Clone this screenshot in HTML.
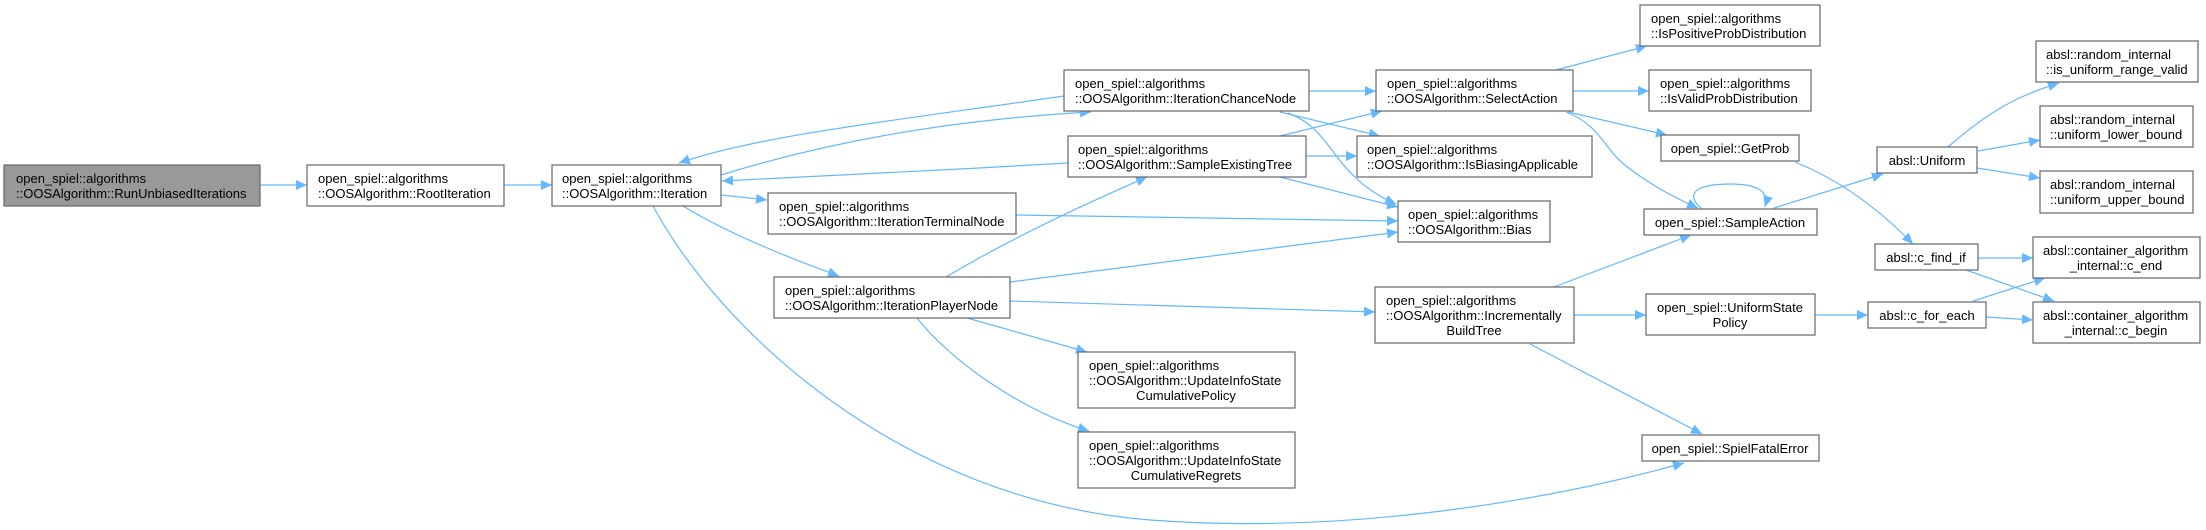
<!DOCTYPE html>
<html><head><meta charset="utf-8"><style>
html,body{margin:0;padding:0;background:#fff;}
svg{display:block;}
text{font-family:"Liberation Sans",Arial,sans-serif;font-size:13px;fill:#000;}
.n{fill:#fff;stroke:#666;stroke-width:1.2;}
.e{fill:none;stroke:#63b8ff;stroke-width:1.2;}
</style></head><body>
<svg width="2206" height="530" viewBox="0 0 2206 530" xmlns="http://www.w3.org/2000/svg">
<defs>
<marker id="a" markerUnits="userSpaceOnUse" markerWidth="12" markerHeight="10" refX="11" refY="5" orient="auto">
<path d="M0,0 L11,5 L0,10 Z" fill="#63b8ff"/>
</marker>
</defs>
<g marker-end="url(#a)">
<path class="e" d="M260,185 L307,185"/>
<path class="e" d="M504,185 L552,185"/>
<path class="e" d="M721,175 C850,135 980,118 1091,112"/>
<path class="e" d="M1064,96 C900,120 760,135 679,163"/>
<path class="e" d="M1068,163 C950,170 820,176 722,181"/>
<path class="e" d="M721,195 L767,200"/>
<path class="e" d="M683,206 C730,235 800,262 839,276"/>
<path class="e" d="M653,206 C720,330 900,500 1150,520 C1350,535 1550,500 1684,463"/>
<path class="e" d="M1309,91 L1376,91"/>
<path class="e" d="M1280,112 L1380,136"/>
<path class="e" d="M1288,113 C1335,130 1330,175 1396,204"/>
<path class="e" d="M1280,136 L1382,111"/>
<path class="e" d="M1306,156 L1357,156"/>
<path class="e" d="M1280,177 L1398,207"/>
<path class="e" d="M1016,215 L1398,221"/>
<path class="e" d="M1010,282 L1398,232"/>
<path class="e" d="M946,277 C1000,245 1060,215 1147,177"/>
<path class="e" d="M1010,301 L1375,312"/>
<path class="e" d="M967,318 L1087,352"/>
<path class="e" d="M917,318 C950,360 1020,410 1089,431"/>
<path class="e" d="M1556,70 L1647,46"/>
<path class="e" d="M1573,91 L1649,91"/>
<path class="e" d="M1568,112 L1667,135"/>
<path class="e" d="M1566,112 C1600,125 1605,150 1625,165 C1650,185 1675,198 1698,208"/>
<path class="e" d="M1702,209 C1680,190 1705,184 1730,184 C1755,184 1770,190 1765,207"/>
<path class="e" d="M1774,208 L1883,174"/>
<path class="e" d="M1795,162 C1840,180 1880,210 1913,244"/>
<path class="e" d="M1554,287 L1691,235"/>
<path class="e" d="M1574,315 L1646,315"/>
<path class="e" d="M1530,344 L1702,434"/>
<path class="e" d="M1815,315 L1868,315"/>
<path class="e" d="M1948,147 C1990,110 2020,95 2059,83"/>
<path class="e" d="M1978,151 L2040,140"/>
<path class="e" d="M1977,168 L2040,178"/>
<path class="e" d="M1978,258 L2033,258"/>
<path class="e" d="M1966,270 L2054,301"/>
<path class="e" d="M1973,301 L2045,278"/>
<path class="e" d="M1986,317 L2033,320"/>
</g>

<!-- nodes -->
<rect x="4" y="165" width="256" height="41" fill="#999" stroke="#666" stroke-width="1.2"/>
<text x="16" y="183">open_spiel::algorithms</text><text x="16" y="198">::OOSAlgorithm::RunUnbiasedIterations</text>

<rect class="n" x="307" y="165" width="197" height="41"/>
<text x="318" y="183">open_spiel::algorithms</text><text x="318" y="198">::OOSAlgorithm::RootIteration</text>

<rect class="n" x="552" y="165" width="169" height="41"/>
<text x="562" y="183">open_spiel::algorithms</text><text x="562" y="198">::OOSAlgorithm::Iteration</text>

<rect class="n" x="1064" y="70" width="245" height="41"/>
<text x="1075" y="88">open_spiel::algorithms</text><text x="1075" y="103">::OOSAlgorithm::IterationChanceNode</text>

<rect class="n" x="1068" y="136" width="238" height="41"/>
<text x="1078" y="154">open_spiel::algorithms</text><text x="1078" y="169">::OOSAlgorithm::SampleExistingTree</text>

<rect class="n" x="768" y="193" width="248" height="41"/>
<text x="779" y="211">open_spiel::algorithms</text><text x="779" y="226">::OOSAlgorithm::IterationTerminalNode</text>

<rect class="n" x="774" y="277" width="236" height="41"/>
<text x="785" y="295">open_spiel::algorithms</text><text x="785" y="310">::OOSAlgorithm::IterationPlayerNode</text>

<rect class="n" x="1078" y="352" width="217" height="56"/>
<text x="1089" y="370">open_spiel::algorithms</text><text x="1089" y="385">::OOSAlgorithm::UpdateInfoState</text><text x="1186" y="400" text-anchor="middle">CumulativePolicy</text>

<rect class="n" x="1078" y="432" width="217" height="56"/>
<text x="1089" y="450">open_spiel::algorithms</text><text x="1089" y="465">::OOSAlgorithm::UpdateInfoState</text><text x="1186" y="480" text-anchor="middle">CumulativeRegrets</text>

<rect class="n" x="1376" y="70" width="197" height="41"/>
<text x="1387" y="88">open_spiel::algorithms</text><text x="1387" y="103">::OOSAlgorithm::SelectAction</text>

<rect class="n" x="1357" y="136" width="235" height="41"/>
<text x="1367" y="154">open_spiel::algorithms</text><text x="1367" y="169">::OOSAlgorithm::IsBiasingApplicable</text>

<rect class="n" x="1398" y="201" width="152" height="41"/>
<text x="1408" y="219">open_spiel::algorithms</text><text x="1408" y="234">::OOSAlgorithm::Bias</text>

<rect class="n" x="1375" y="287" width="199" height="56"/>
<text x="1386" y="305">open_spiel::algorithms</text><text x="1386" y="320">::OOSAlgorithm::Incrementally</text><text x="1474" y="335" text-anchor="middle">BuildTree</text>

<rect class="n" x="1640" y="5" width="180" height="41"/>
<text x="1651" y="23">open_spiel::algorithms</text><text x="1651" y="38">::IsPositiveProbDistribution</text>

<rect class="n" x="1649" y="70" width="162" height="41"/>
<text x="1660" y="88">open_spiel::algorithms</text><text x="1660" y="103">::IsValidProbDistribution</text>

<rect class="n" x="1661" y="135" width="138" height="26"/>
<text x="1730" y="153" text-anchor="middle">open_spiel::GetProb</text>

<rect class="n" x="1644" y="209" width="173" height="26"/>
<text x="1730" y="227" text-anchor="middle">open_spiel::SampleAction</text>

<rect class="n" x="1646" y="294" width="169" height="41"/>
<text x="1657" y="312">open_spiel::UniformState</text><text x="1730" y="327" text-anchor="middle">Policy</text>

<rect class="n" x="1642" y="435" width="177" height="26"/>
<text x="1730" y="453" text-anchor="middle">open_spiel::SpielFatalError</text>

<rect class="n" x="1877" y="147" width="100" height="26"/>
<text x="1927" y="165" text-anchor="middle">absl::Uniform</text>

<rect class="n" x="1875" y="244" width="103" height="26"/>
<text x="1926" y="262" text-anchor="middle">absl::c_find_if</text>

<rect class="n" x="1868" y="302" width="118" height="26"/>
<text x="1927" y="320" text-anchor="middle">absl::c_for_each</text>

<rect class="n" x="2036" y="41" width="162" height="41"/>
<text x="2046" y="59">absl::random_internal</text><text x="2046" y="74">::is_uniform_range_valid</text>

<rect class="n" x="2040" y="106" width="153" height="41"/>
<text x="2050" y="124">absl::random_internal</text><text x="2050" y="139">::uniform_lower_bound</text>

<rect class="n" x="2040" y="171" width="153" height="42"/>
<text x="2050" y="189">absl::random_internal</text><text x="2050" y="204">::uniform_upper_bound</text>

<rect class="n" x="2033" y="237" width="167" height="41"/>
<text x="2043" y="255">absl::container_algorithm</text><text x="2116" y="270" text-anchor="middle">_internal::c_end</text>

<rect class="n" x="2033" y="302" width="167" height="41"/>
<text x="2043" y="320">absl::container_algorithm</text><text x="2116" y="335" text-anchor="middle">_internal::c_begin</text>
</svg>
</body></html>
